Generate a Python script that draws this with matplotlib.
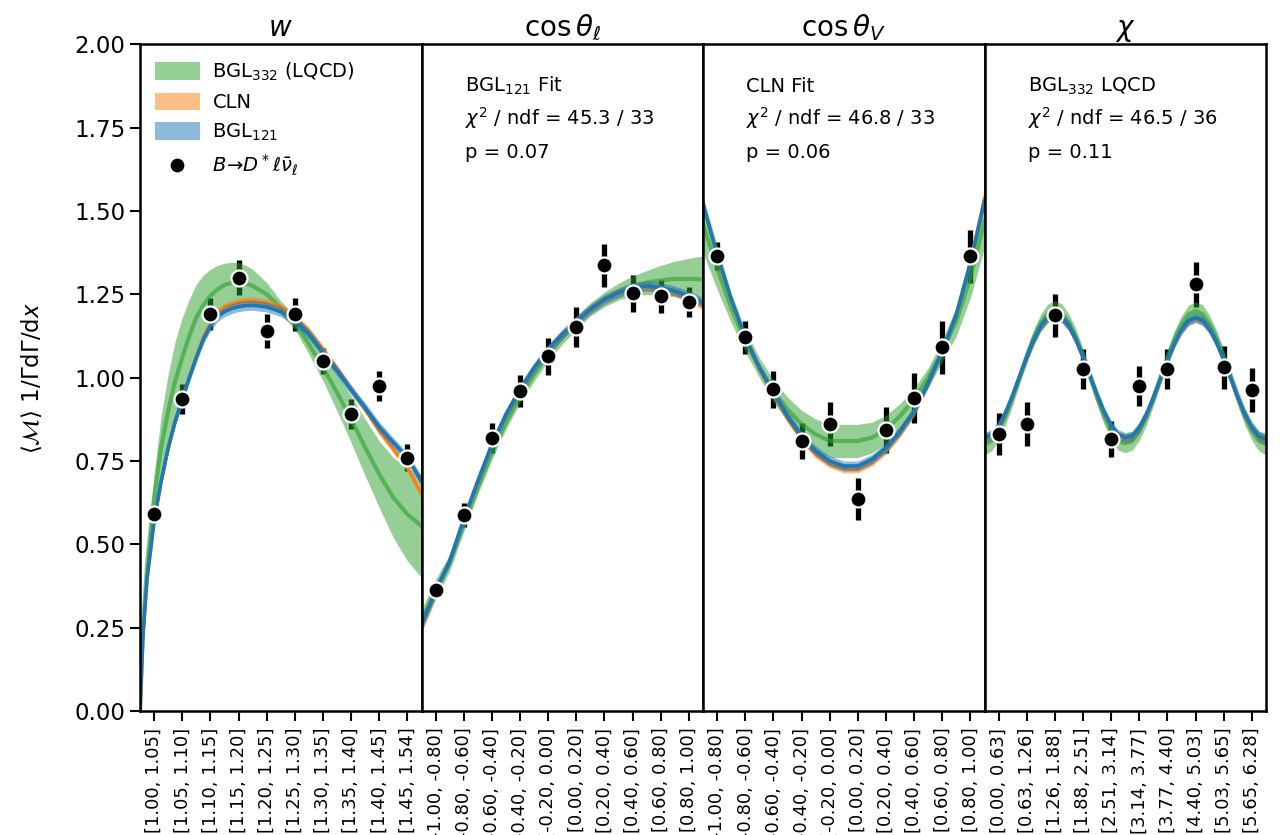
import numpy as np
import matplotlib.pyplot as plt
from matplotlib.patches import Patch
from matplotlib.lines import Line2D

# ---- binned data (bin centres at 0.5 ... 9.5 in each panel) ----
w_labels = ['[1.00, 1.05]', '[1.05, 1.10]', '[1.10, 1.15]', '[1.15, 1.20]', '[1.20, 1.25]',
            '[1.25, 1.30]', '[1.30, 1.35]', '[1.35, 1.40]', '[1.40, 1.45]', '[1.45, 1.54]']
cos_labels = ['[-1.00, -0.80]', '[-0.80, -0.60]', '[-0.60, -0.40]', '[-0.40, -0.20]', '[-0.20, 0.00]',
              '[0.00, 0.20]', '[0.20, 0.40]', '[0.40, 0.60]', '[0.60, 0.80]', '[0.80, 1.00]']
chi_labels = ['[0.00, 0.63]', '[0.63, 1.26]', '[1.26, 1.88]', '[1.88, 2.51]', '[2.51, 3.14]',
              '[3.14, 3.77]', '[3.77, 4.40]', '[4.40, 5.03]', '[5.03, 5.65]', '[5.65, 6.28]']

w_data = [0.59, 0.935, 1.19, 1.30, 1.14, 1.19, 1.05, 0.89, 0.975, 0.76]
w_err = [0.02, 0.045, 0.048, 0.052, 0.05, 0.05, 0.04, 0.045, 0.045, 0.04]
cl_data = [0.363, 0.588, 0.819, 0.96, 1.064, 1.151, 1.337, 1.253, 1.244, 1.226]
cl_err = [0.02, 0.035, 0.045, 0.048, 0.055, 0.06, 0.065, 0.055, 0.05, 0.045]
cv_data = [1.364, 1.121, 0.965, 0.81, 0.861, 0.636, 0.843, 0.938, 1.091, 1.364]
cv_err = [0.042, 0.05, 0.055, 0.055, 0.065, 0.062, 0.07, 0.075, 0.08, 0.08]
chi_data = [0.831, 0.861, 1.187, 1.025, 0.816, 0.975, 1.025, 1.28, 1.031, 0.963]
chi_err = [0.062, 0.065, 0.065, 0.06, 0.055, 0.06, 0.06, 0.068, 0.065, 0.065]

# ---- fitted curves ----
w_grid = [0, 0.1, 0.25, 0.5, 0.75, 1, 1.25, 1.5, 1.75, 2, 2.25, 2.5, 2.75, 3, 3.25, 3.5, 3.75, 4,
          4.5, 5, 5.5, 6, 6.5, 7, 7.5, 8, 8.5, 9, 9.5, 10]
w_bgl121 = [0, 0.22, 0.40, 0.57, 0.69, 0.79, 0.87, 0.935, 1.0, 1.06, 1.115, 1.155, 1.183, 1.198,
            1.207, 1.213, 1.216, 1.217, 1.212, 1.198, 1.172, 1.13, 1.075, 1.02, 0.963, 0.91,
            0.852, 0.805, 0.76, 0.69]
w_cln = [0, 0.21, 0.39, 0.565, 0.685, 0.785, 0.868, 0.935, 1.002, 1.065, 1.122, 1.165, 1.195,
         1.211, 1.22, 1.226, 1.229, 1.23, 1.224, 1.21, 1.182, 1.14, 1.085, 1.027, 0.966, 0.905,
         0.84, 0.785, 0.73, 0.65]
w_bgl332 = [0, 0.24, 0.44, 0.64, 0.79, 0.90, 0.99, 1.06, 1.125, 1.18, 1.218, 1.245, 1.265, 1.278,
            1.284, 1.285, 1.282, 1.275, 1.25, 1.21, 1.165, 1.10, 1.03, 0.955, 0.875, 0.79, 0.71,
            0.64, 0.59, 0.555]
w_bgl332_err = [0, 0.03, 0.05, 0.07, 0.095, 0.11, 0.12, 0.12, 0.11, 0.10, 0.09, 0.08, 0.072,
                0.065, 0.062, 0.06, 0.055, 0.05, 0.035, 0.02, 0.02, 0.03, 0.04, 0.055, 0.07,
                0.085, 0.10, 0.12, 0.14, 0.155]

u_grid = [0, 0.5, 1, 1.5, 2, 2.5, 3, 3.5, 4, 4.5, 5, 5.5, 6, 6.5, 7, 7.5, 8, 8.5, 9, 9.5, 10]
cl_bgl121 = [0.26, 0.36, 0.45, 0.575, 0.69, 0.80, 0.89, 0.965, 1.03, 1.085, 1.13, 1.17, 1.205,
             1.235, 1.255, 1.27, 1.275, 1.27, 1.26, 1.245, 1.225]
cl_cln = [0.25, 0.355, 0.45, 0.575, 0.69, 0.80, 0.89, 0.965, 1.03, 1.085, 1.13, 1.17, 1.205,
          1.235, 1.255, 1.268, 1.272, 1.266, 1.255, 1.238, 1.215]
cl_bgl332 = [0.27, 0.365, 0.445, 0.56, 0.67, 0.775, 0.865, 0.945, 1.01, 1.07, 1.12, 1.165, 1.205,
             1.235, 1.258, 1.275, 1.285, 1.292, 1.296, 1.296, 1.295]
cl_bgl332_err = [0.035, 0.03, 0.025, 0.022, 0.02, 0.02, 0.02, 0.02, 0.02, 0.02, 0.02, 0.02, 0.02,
                 0.022, 0.025, 0.03, 0.036, 0.045, 0.053, 0.062, 0.07]

cv_bgl121 = [1.52, 1.37, 1.235, 1.12, 1.03, 0.955, 0.885, 0.825, 0.78, 0.75, 0.735, 0.735, 0.755,
             0.79, 0.84, 0.90, 0.985, 1.08, 1.19, 1.345, 1.53]
cv_cln = [1.52, 1.365, 1.232, 1.117, 1.025, 0.949, 0.877, 0.816, 0.77, 0.741, 0.726, 0.726, 0.746,
          0.782, 0.833, 0.895, 0.982, 1.079, 1.19, 1.35, 1.54]
cv_bgl332 = [1.46, 1.33, 1.21, 1.11, 1.03, 0.96, 0.905, 0.86, 0.83, 0.81, 0.81, 0.81, 0.82,
             0.845, 0.885, 0.935, 1.00, 1.08, 1.17, 1.30, 1.47]
cv_bgl332_err = [0.085, 0.065, 0.045, 0.032, 0.03, 0.033, 0.037, 0.042, 0.046, 0.05, 0.05, 0.05,
                 0.046, 0.042, 0.037, 0.033, 0.03, 0.032, 0.045, 0.06, 0.08]

chi_grid = [0, 0.25, 0.5, 0.75, 1, 1.25, 1.5, 1.75, 2, 2.25, 2.5, 2.75, 3, 3.25, 3.5, 3.75, 4,
            4.25, 4.5, 4.75, 5, 5.25, 5.5, 5.75, 6, 6.25, 6.5, 6.75, 7, 7.25, 7.5, 7.75, 8,
            8.25, 8.5, 8.75, 9, 9.25, 9.5, 9.75, 10]
chi_bgl121 = [0.82, 0.829, 0.855, 0.896, 0.948, 1.005, 1.062, 1.114, 1.155, 1.181, 1.19, 1.181,
              1.155, 1.114, 1.062, 1.005, 0.948, 0.896, 0.855, 0.829, 0.82, 0.825, 0.85, 0.89,
              0.94, 0.997, 1.053, 1.104, 1.145, 1.171, 1.18, 1.171, 1.145, 1.104, 1.053, 0.997,
              0.94, 0.89, 0.85, 0.824, 0.815]
chi_cln = [0.818, 0.827, 0.853, 0.894, 0.946, 1.003, 1.06, 1.112, 1.153, 1.179, 1.188, 1.179,
           1.153, 1.112, 1.06, 1.003, 0.946, 0.894, 0.853, 0.827, 0.818, 0.823, 0.848, 0.888,
           0.938, 0.995, 1.051, 1.102, 1.143, 1.169, 1.178, 1.169, 1.143, 1.102, 1.051, 0.995,
           0.938, 0.888, 0.848, 0.822, 0.813]
chi_bgl332 = [0.80, 0.81, 0.841, 0.885, 0.941, 1.003, 1.065, 1.121, 1.165, 1.193, 1.203, 1.193,
              1.165, 1.121, 1.065, 1.003, 0.941, 0.885, 0.841, 0.81, 0.803, 0.81, 0.84, 0.883,
              0.939, 1.0, 1.061, 1.117, 1.16, 1.19, 1.20, 1.19, 1.16, 1.117, 1.061, 1.0, 0.939,
              0.883, 0.84, 0.81, 0.80]
chi_bgl332_err = [0.032, 0.03, 0.028, 0.026, 0.024, 0.022, 0.022, 0.024, 0.026, 0.028, 0.028,
                  0.028, 0.026, 0.024, 0.022, 0.022, 0.024, 0.026, 0.028, 0.028, 0.028, 0.028,
                  0.028, 0.026, 0.024, 0.022, 0.022, 0.024, 0.026, 0.028, 0.028, 0.028, 0.026,
                  0.024, 0.022, 0.022, 0.024, 0.026, 0.028, 0.03, 0.032]

panels = [
    ('$w$', w_labels, w_data, w_err, w_grid, w_bgl121, w_cln, w_bgl332, w_bgl332_err),
    (r'$\cos\theta_\ell$', cos_labels, cl_data, cl_err, u_grid, cl_bgl121, cl_cln, cl_bgl332, cl_bgl332_err),
    (r'$\cos\theta_V$', cos_labels, cv_data, cv_err, u_grid, cv_bgl121, cv_cln, cv_bgl332, cv_bgl332_err),
    (r'$\chi$', chi_labels, chi_data, chi_err, chi_grid, chi_bgl121, chi_cln, chi_bgl332, chi_bgl332_err),
]
fit_text = [
    None,
    ['BGL$_{121}$ Fit', r'$\chi^2$ / ndf = 45.3 / 33', 'p = 0.07'],
    ['CLN Fit', r'$\chi^2$ / ndf = 46.8 / 33', 'p = 0.06'],
    ['BGL$_{332}$ LQCD', r'$\chi^2$ / ndf = 46.5 / 36', 'p = 0.11'],
]

green, orange, blue = '#2ca02c', '#ff7f0e', '#1f77b4'

fig, axs = plt.subplots(1, 4, figsize=(12.81, 8.35), dpi=100, sharey=True)
fig.subplots_adjust(left=0.1093, right=0.9883, bottom=0.1485, top=0.947, wspace=0)

centers = np.arange(10) + 0.5
for i, (ax, p) in enumerate(zip(axs, panels)):
    title, labels, data, err, grid, b121, cln, b332, b332e = p
    grid = np.array(grid)
    b332 = np.array(b332)
    b332e = np.array(b332e)

    # error bars behind everything
    ax.errorbar(centers, data, yerr=err, fmt='none', ecolor='black', elinewidth=3.8, capsize=0, zorder=1)

    ax.fill_between(grid, b332 - b332e, b332 + b332e, color=green, alpha=0.5, lw=0, zorder=2)
    ax.plot(grid, b332, color=green, alpha=0.6, lw=3, zorder=2.1)
    ax.fill_between(grid, np.array(cln) - 0.012, np.array(cln) + 0.012, color=orange, alpha=0.5, lw=0, zorder=2.2)
    ax.plot(grid, cln, color=orange, lw=2.2, zorder=2.3)
    ax.fill_between(grid, np.array(b121) - 0.015, np.array(b121) + 0.015, color=blue, alpha=0.5, lw=0, zorder=2.4)
    ax.plot(grid, b121, color=blue, lw=2.6, zorder=2.5)

    ax.plot(centers, data, 'o', color='black', markersize=11.5, markeredgecolor='white',
            markeredgewidth=1.6, zorder=5)

    ax.set_xlim(0, 10)
    ax.set_ylim(0, 2)
    ax.set_title(title, fontsize=20, pad=6)
    ax.set_xticks(centers)
    ax.set_xticklabels(labels, rotation=90, fontsize=13)
    ax.tick_params(axis='x', length=7, width=1.5, pad=5)
    for s in ax.spines.values():
        s.set_linewidth(1.8)
    if i == 0:
        ax.set_yticks(np.arange(0, 2.01, 0.25))
        ax.set_yticklabels(['%.2f' % v for v in np.arange(0, 2.01, 0.25)], fontsize=16.5)
        ax.tick_params(axis='y', length=7, width=1.5)
        ax.set_ylabel(r'$\langle\mathcal{M}\rangle$ 1/$\Gamma$d$\Gamma$/d$x$', fontsize=16.5, labelpad=22)
    else:
        ax.tick_params(axis='y', left=False, labelleft=False)

    if fit_text[i] is not None:
        for txt, yy in zip(fit_text[i], [0.937, 0.889, 0.837]):
            ax.text(0.153, yy, txt, transform=ax.transAxes, fontsize=14, va='center', ha='left')

handles = [Patch(facecolor=green, alpha=0.5), Patch(facecolor=orange, alpha=0.5),
           Patch(facecolor=blue, alpha=0.5),
           Line2D([], [], marker='o', color='black', ls='none', markersize=11.5,
                  markeredgecolor='white', markeredgewidth=1.6)]
names = ['BGL$_{332}$ (LQCD)', 'CLN', 'BGL$_{121}$', r'$B\!\to\! D^*\ell\bar{\nu}_\ell$']
axs[0].legend(handles, names, loc='upper left', frameon=False, fontsize=14, handlelength=2.3,
              handleheight=1.0, labelspacing=0.5, handletextpad=0.65, borderaxespad=0,
              bbox_to_anchor=(0.026, 0.987))

fig.savefig('out.png', dpi=100)
